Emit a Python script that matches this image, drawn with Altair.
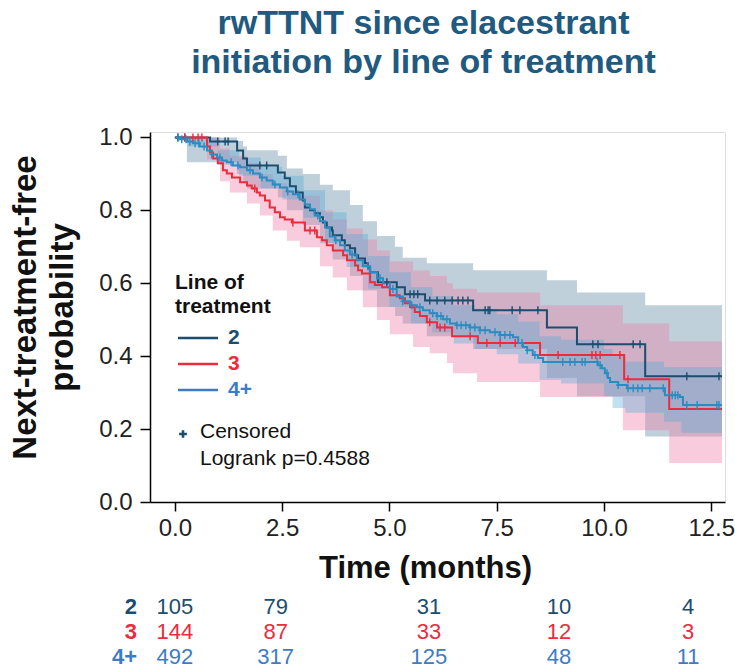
import altair as alt
import pandas as pd

FONT = "Liberation Sans"
NAVY = "#1b4d6e"
RED = "#ec2b3c"
TEAL = "#2b8cc2"
BLUE4 = "#3d7cc5"
TITLE_C = "#1f5a80"
T_END = 12.75

# ---- Line 2 (navy) ----
t_2 = [0, 0.82, 1.45, 1.59, 1.68, 2.40, 2.56, 2.68, 2.82, 2.98, 3.03, 3.15, 3.26, 3.38, 3.45, 3.54, 3.66, 3.68,
       3.89, 3.96, 4.08, 4.20, 4.27, 4.43, 4.50, 4.55, 4.73, 5.17, 5.36, 5.83, 6.95, 8.67, 9.37, 10.96]
s_2 = [1.0, 0.989, 0.964, 0.942, 0.923, 0.904, 0.888, 0.866, 0.849, 0.827, 0.808, 0.800, 0.792, 0.781, 0.767,
       0.753, 0.745, 0.732, 0.718, 0.704, 0.696, 0.677, 0.668, 0.655, 0.641, 0.630, 0.603, 0.589, 0.570, 0.553,
       0.526, 0.479, 0.433, 0.345]
cens_2 = [0.07, 0.23, 1.0, 1.17, 1.24, 1.98, 2.14, 4.94, 5.48, 5.57, 5.66, 5.94, 6.11, 6.29, 6.46, 6.60, 6.71,
          6.83, 7.23, 7.30, 7.34, 7.86, 8.04, 8.46, 9.74, 9.86, 10.68, 10.84, 11.93, 12.68]
band_2_t = [0, 0.28, 1.45, 1.59, 1.68, 2.40, 2.61, 2.98, 3.38, 3.68, 4.08, 4.38, 4.71, 5.13, 5.31, 5.87, 6.95,
            8.67, 9.37, 10.96]
band_2_lo = [1.0, 0.932, 0.90, 0.875, 0.86, 0.835, 0.80, 0.76, 0.71, 0.665, 0.62, 0.58, 0.535, 0.51, 0.49, 0.455,
             0.42, 0.34, 0.29, 0.18]
band_2_hi = [1.0, 1.0, 0.99, 0.975, 0.965, 0.95, 0.915, 0.90, 0.87, 0.855, 0.815, 0.77, 0.73, 0.70, 0.67, 0.655,
             0.636, 0.608, 0.575, 0.54]

# ---- Line 3 (red) ----
t_3 = [0, 0.75, 0.82, 0.89, 1.00, 1.12, 1.21, 1.33, 1.52, 1.68, 1.79, 1.91, 1.98, 2.10, 2.21, 2.33, 2.45, 2.56,
       2.73, 3.03, 3.31, 3.43, 3.54, 3.68, 3.92, 4.01, 4.20, 4.27, 4.36, 4.55, 4.66, 4.83, 5.01, 5.24, 5.36, 5.48,
       5.59, 5.71, 5.87, 6.11, 6.46, 7.06, 8.51, 10.47, 11.52]
s_3 = [1.0, 0.975, 0.959, 0.942, 0.929, 0.910, 0.901, 0.890, 0.877, 0.868, 0.860, 0.849, 0.841, 0.827, 0.808,
       0.795, 0.781, 0.775, 0.767, 0.745, 0.726, 0.718, 0.704, 0.690, 0.677, 0.663, 0.649, 0.636, 0.627, 0.603,
       0.595, 0.589, 0.567, 0.559, 0.545, 0.534, 0.521, 0.510, 0.493, 0.479, 0.455, 0.436, 0.403, 0.337, 0.255]
cens_3 = [0.23, 0.42, 0.54, 0.63, 1.86, 2.75, 3.15, 3.26, 5.94, 6.18, 6.29, 6.88, 7.27, 7.58, 7.93, 8.93, 9.72,
          9.81, 9.91, 10.37, 10.56]
band_3_t = [0, 0.75, 1.05, 1.28, 1.68, 1.98, 2.28, 2.61, 2.91, 3.38, 3.68, 4.01, 4.38, 4.71, 5.01, 5.55, 5.94,
            6.34, 6.48, 7.04, 8.51, 10.44, 11.52]
band_3_lo = [1.0, 0.94, 0.88, 0.849, 0.819, 0.786, 0.745, 0.717, 0.699, 0.647, 0.616, 0.581, 0.534, 0.499, 0.460,
             0.425, 0.408, 0.381, 0.353, 0.329, 0.288, 0.197, 0.107]
band_3_hi = [1.0, 1.0, 0.97, 0.95, 0.93, 0.90, 0.875, 0.855, 0.84, 0.80, 0.775, 0.75, 0.72, 0.69, 0.66, 0.635,
             0.62, 0.60, 0.585, 0.575, 0.54, 0.49, 0.44]

# ---- Line 4+ (teal) ----
t_4 = [0, 0.12, 0.28, 0.42, 0.58, 0.75, 0.86, 0.98, 1.10, 1.21, 1.35, 1.52, 1.68, 1.82, 1.98, 2.14, 2.28, 2.45,
       2.61, 2.75, 2.91, 3.03, 3.15, 3.26, 3.38, 3.50, 3.61, 3.73, 3.85, 3.96, 4.08, 4.24, 4.38, 4.55, 4.71, 4.85,
       5.01, 5.17, 5.31, 5.48, 5.64, 5.78, 5.94, 6.11, 6.25, 6.41, 6.57, 6.88, 7.11, 7.34, 7.58, 7.88, 8.00, 8.11,
       8.21, 8.34, 8.46, 8.58, 9.86, 9.95, 10.02, 10.09, 10.14, 10.33, 10.54, 11.42, 11.77, 11.84]
s_4 = [1.0, 0.995, 0.989, 0.984, 0.975, 0.964, 0.953, 0.945, 0.937, 0.932, 0.923, 0.918, 0.910, 0.901, 0.890,
       0.882, 0.871, 0.863, 0.852, 0.844, 0.830, 0.816, 0.803, 0.786, 0.770, 0.753, 0.728, 0.718, 0.704, 0.690,
       0.679, 0.663, 0.647, 0.630, 0.614, 0.600, 0.584, 0.564, 0.551, 0.540, 0.534, 0.526, 0.518, 0.510, 0.501,
       0.490, 0.485, 0.479, 0.471, 0.466, 0.458, 0.452, 0.436, 0.425, 0.416, 0.403, 0.395, 0.384, 0.375, 0.367,
       0.353, 0.340, 0.329, 0.321, 0.312, 0.293, 0.288, 0.266]
cens_4 = [0.07, 0.16, 0.26, 0.35, 0.47, 0.56, 0.68, 0.86, 1.05, 1.31, 1.47, 1.75, 2.03, 2.33, 2.63, 2.87, 3.33,
          3.75, 4.13, 4.50, 4.78, 5.08, 5.31, 5.52, 5.71, 6.01, 6.11, 6.20, 6.34, 6.57, 6.67, 6.78, 6.88, 6.99,
          7.11, 7.23, 7.46, 7.58, 7.69, 7.81, 8.09, 8.21, 8.39, 9.04, 9.21, 9.32, 9.49, 9.56, 9.84, 9.91, 10.07,
          10.33, 10.56, 10.68, 10.79, 10.89, 11.07, 11.38, 11.59, 11.66, 11.72, 11.93, 12.17, 12.63, 12.68]
band_4_t = [0, 0.3, 1.0, 1.5, 2.0, 2.5, 3.0, 3.5, 4.0, 4.5, 5.0, 5.5, 6.0, 6.5, 7.0, 7.5, 8.0, 8.5, 9.0, 10.0,
            10.2, 10.5, 11.4, 11.8]
band_4_lo = [1.0, 0.975, 0.925, 0.895, 0.86, 0.83, 0.78, 0.71, 0.645, 0.585, 0.535, 0.49, 0.465, 0.435, 0.42,
             0.405, 0.38, 0.335, 0.325, 0.29, 0.258, 0.245, 0.22, 0.19]
band_4_hi = [1.0, 1.0, 0.965, 0.945, 0.92, 0.895, 0.855, 0.795, 0.735, 0.675, 0.63, 0.59, 0.565, 0.54, 0.53,
             0.515, 0.495, 0.455, 0.445, 0.42, 0.40, 0.385, 0.37, 0.37]

# ---- Risk table ----
risk_x = [0, 2.35, 5.92, 8.95, 11.96]
risk_2 = [105, 79, 31, 10, 4]
risk_3 = [144, 87, 33, 12, 3]
risk_4 = [492, 317, 125, 48, 11]


def step_df(ts, ss):
    return pd.DataFrame({"t": ts + [T_END], "s": ss + [ss[-1]]})


def band_df(ts, lo, hi):
    return pd.DataFrame({"t": ts + [T_END], "lo": lo + [lo[-1]], "hi": hi + [hi[-1]]})


def cens_df(ts, ss, cts):
    vals = []
    for c in cts:
        v = ss[0]
        for a, b in zip(ts, ss):
            if a <= c:
                v = b
        vals.append(v)
    return pd.DataFrame({"t": cts, "s": vals})


xscale = alt.Scale(domain=[-0.58, 12.82], nice=False, zero=False)
yscale = alt.Scale(domain=[0, 1.015], nice=False, zero=False)

xaxis = alt.Axis(values=[0, 2.5, 5, 7.5, 10, 12.5], format=".1f", grid=False,
                 labelFont=FONT, labelFontSize=24, labelColor="#222222", labelPadding=5,
                 tickSize=9, tickWidth=1.5, tickColor="black", domainColor="black", domainWidth=1.5,
                 title="Time (months)", titleFont=FONT, titleFontSize=31, titleFontWeight="bold",
                 titleColor="#111111", titleX=275, titleY=75, titleBaseline="alphabetic")
yaxis = alt.Axis(values=[0, 0.2, 0.4, 0.6, 0.8, 1.0], format=".1f", grid=False,
                 labelFont=FONT, labelFontSize=24, labelColor="#222222", labelPadding=8,
                 tickSize=10, tickWidth=1.5, tickColor="black", domainColor="black", domainWidth=1.5,
                 title=["Next-treatment-free", "probability"], titleFont=FONT, titleFontSize=33,
                 titleFontWeight="bold", titleColor="#111111", titleAngle=270, titleBaseline="bottom",
                 titleX=-108, titleY=175, titleLineHeight=37, titleAlign="center")

X = alt.X("t:Q", scale=xscale, axis=xaxis)
Y = alt.Y("s:Q", scale=yscale, axis=yaxis)

layers = []
bands = [
    (band_2_t, band_2_lo, band_2_hi, "#5f8aa6", 0.4),
    (band_3_t, band_3_lo, band_3_hi, "#ee7fa8", 0.4),
    (band_4_t, band_4_lo, band_4_hi, "#4aa8d8", 0.35),
]
for bt, blo, bhi, col, op in bands:
    layers.append(
        alt.Chart(band_df(bt, blo, bhi)).mark_area(interpolate="step-after", color=col, opacity=op).encode(
            x=X, y=alt.Y("lo:Q", scale=yscale, axis=yaxis), y2="hi:Q")
    )

curves = [(t_2, s_2, cens_2, NAVY), (t_3, s_3, cens_3, RED), (t_4, s_4, cens_4, TEAL)]
for ts, ss, cs, col in curves:
    layers.append(
        alt.Chart(step_df(ts, ss)).mark_line(interpolate="step-after", color=col, strokeWidth=2).encode(x=X, y=Y)
    )
CROSS = "M0,-1L0,1M-0.55,0L0.55,0"
for ts, ss, cs, col in curves:
    layers.append(
        alt.Chart(cens_df(ts, ss, cs)).mark_point(shape=CROSS, filled=False, color=col, size=64,
                                                  strokeWidth=1.4, opacity=1).encode(x=X, y=Y)
    )

# ---- custom legend (pixel offsets inside plot area) ----
def txt(text, x, y, size, color, bold=False, align="left"):
    return alt.Chart(pd.DataFrame({"a": [0]})).mark_text(
        text=text, font=FONT, fontSize=size, fontWeight="bold" if bold else "normal",
        color=color, align=align, baseline="middle").encode(x=alt.value(x), y=alt.value(y))


layers.append(txt("Line of", 25, 151, 21, "#111111", True))
layers.append(txt("treatment", 25, 175, 21, "#111111", True))
leg_items = [("2", NAVY, NAVY, 206), ("3", RED, RED, 232), ("4+", BLUE4, BLUE4, 258)]
for lab, lcol, tcol, yy in leg_items:
    layers.append(
        alt.Chart(pd.DataFrame({"a": [0]})).mark_rule(color=lcol, strokeWidth=2.5).encode(
            x=alt.value(28), x2=alt.value(68), y=alt.value(yy))
    )
    layers.append(txt(lab, 78, yy, 21, tcol, True))
layers.append(
    alt.Chart(pd.DataFrame({"a": [0]})).mark_point(shape="M0,-1L0,1M-1,0L1,0", filled=False, color=NAVY,
                                                   size=60, strokeWidth=2.6, opacity=1).encode(
        x=alt.value(33), y=alt.value(302))
)
layers.append(txt("Censored", 50, 300, 21, "#111111"))
layers.append(txt("Logrank p=0.4588", 50, 327, 21, "#111111"))

# ---- risk table ----
risk_rows = [("2", risk_2, NAVY, 475), ("3", risk_3, RED, 500), ("4+", risk_4, BLUE4, 525)]
for lab, vals, col, yy in risk_rows:
    layers.append(txt(lab, -13, yy, 22, col, True, align="right"))
    layers.append(
        alt.Chart(pd.DataFrame({"t": risk_x, "n": [str(v) for v in vals]})).mark_text(
            font=FONT, fontSize=22, color=col, align="center", baseline="middle").encode(
            x=X, y=alt.value(yy), text="n:N")
    )

chart = alt.layer(*layers).properties(
    width=575, height=370,
    autosize="none",
    padding={"left": 150, "top": 132, "right": 10, "bottom": 168},
    title=alt.TitleParams(text=["rwTTNT since elacestrant", "initiation by line of treatment"],
                          font=FONT, fontSize=34, fontWeight="bold", color=TITLE_C,
                          anchor="middle", frame="group", dx=-14, offset=45, lineHeight=39),
).configure_view(stroke=None).configure(background="white")

chart.save("out.html", embed_options={"renderer": "svg", "actions": False})
